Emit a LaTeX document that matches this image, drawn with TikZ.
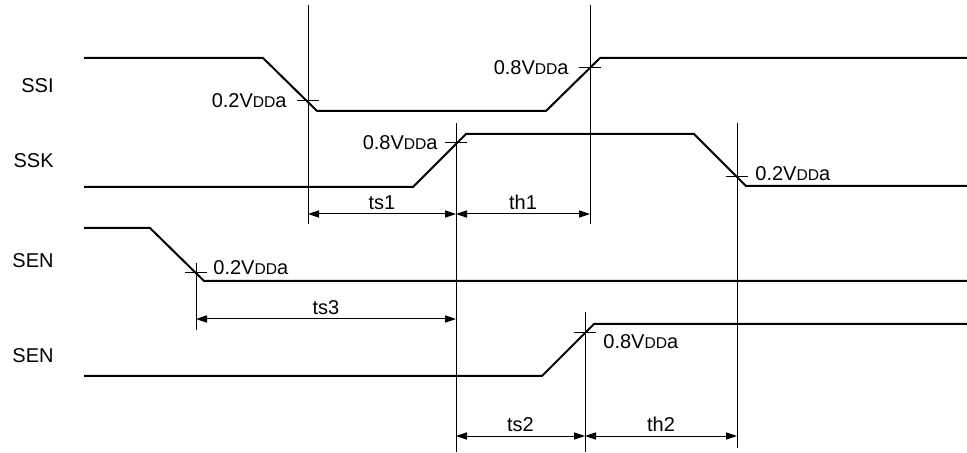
\documentclass[tikz,border=0pt]{standalone}
\usepackage{fontspec}
\setmainfont{Liberation Sans}
\usetikzlibrary{arrows.meta}
\newcommand{\vdda}{V{\fontsize{7.8}{9}\selectfont DD}a}

\begin{document}
\begin{tikzpicture}[x=0.5pt, y=-0.5pt, font=\fontsize{10}{12}\selectfont,
        wave/.style={line width=1pt},
        guide/.style={line width=0.5pt},
        dim/.style={line width=0.5pt, {Triangle[length=5.5pt,width=3.6pt]}-{Triangle[length=5.5pt,width=3.6pt]}},
        sig/.style={anchor=base east, inner sep=0pt},
        lvl/.style={inner sep=0pt},
        tlabel/.style={midway, anchor=base, inner sep=0pt, yshift=2.2pt}]
        \useasboundingbox (0,0) rectangle (967,453);

        % Signal names
        \node[sig] (nssi) at (54,93) {SSI};
        \node[sig] (nssk) at (54,168) {SSK};
        \node[sig] (nsen) at (54,268) {SEN};
        \node[sig] (nsenb) at (54,363) {SEN};

        % Waveforms
        \draw[wave] (84,58) -- (263,58) -- (317,111) -- (546,111) -- (600,58) -- (967,58);
        \draw[wave] (84,187) -- (413,187) -- (466,134) -- (694,134) -- (746,186) -- (967,186);
        \draw[wave] (84,228) -- (150,228) -- (204,281) -- (967,281);
        \draw[wave] (84,376) -- (542,376) -- (594,324) -- (967,324);

        % Guide lines
        \coordinate (g1t) at (308,5);   \coordinate (g1b) at (308,224);
        \coordinate (g2t) at (590,5);   \coordinate (g2b) at (590,224);
        \coordinate (g3t) at (456,123); \coordinate (g3b) at (456,452);
        \coordinate (g4t) at (737,123); \coordinate (g4b) at (737,448);
        \coordinate (g5t) at (196,263); \coordinate (g5b) at (196,330);
        \coordinate (g6t) at (585,312); \coordinate (g6b) at (585,452);
        \foreach \g in {g1,g2,g3,g4,g5,g6} {
            \draw[guide] (\g t) -- (\g b);
        }

        % Threshold ticks
        \foreach \x/\y in {308/101, 590/68, 456/143, 737/177, 196/273, 585/333} {
            \draw[guide] (\x-11,\y) -- (\x+11,\y);
        }

        % Threshold labels
        \node[lvl, anchor=base east] (l1) at (287,108) {0.2\vdda};
        \node[lvl, anchor=base east] (l2) at (569,75) {0.8\vdda};
        \node[lvl, anchor=base east] (l3) at (438,150) {0.8\vdda};
        \node[lvl, anchor=base west] (l4) at (755,181) {0.2\vdda};
        \node[lvl, anchor=base west] (l5) at (213,275) {0.2\vdda};
        \node[lvl, anchor=base west] (l6) at (603,349) {0.8\vdda};

        % Timing arrows
        \coordinate (rowa) at (0,214);
        \coordinate (rowb) at (0,319);
        \coordinate (rowc) at (0,436);
        \draw[dim] (g1b |- rowa) -- (g3b |- rowa) node[tlabel] (ts1) {ts1};
        \draw[dim] (g3b |- rowa) -- (g2b |- rowa) node[tlabel] (th1) {th1};
        \draw[dim] (g5b |- rowb) -- (g3b |- rowb) node[tlabel] (ts3) {ts3};
        \draw[dim] (g3b |- rowc) -- (g6b |- rowc) node[tlabel] (ts2) {ts2};
        \draw[dim] (g6b |- rowc) -- (g4b |- rowc) node[tlabel] (th2) {th2};

\end{tikzpicture}
\end{document}
